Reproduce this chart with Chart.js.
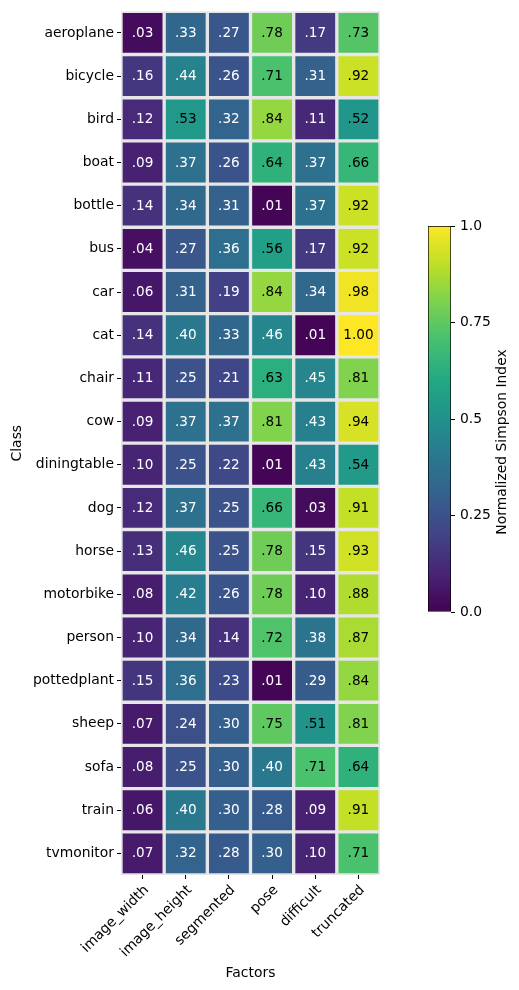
<!DOCTYPE html>
<html>
<head>
<meta charset="utf-8">
<script src="https://cdn.jsdelivr.net/npm/chart.js@4.4.1/dist/chart.umd.min.js"></script>
<style>
  body { margin: 0; background: #fff; }
  #wrap { position: relative; width: 519px; height: 990px; }
  canvas { position: absolute; left: 0; top: 0; }
</style>
</head>
<body>
<div id="wrap">
  <canvas id="heat" width="519" height="990"></canvas>
  <canvas id="cbar" width="519" height="990"></canvas>
</div>
<script>
var classes = ["aeroplane", "bicycle", "bird", "boat", "bottle", "bus", "car", "cat", "chair", "cow",
  "diningtable", "dog", "horse", "motorbike", "person", "pottedplant", "sheep", "sofa", "train", "tvmonitor"];
var factors = ["image_width", "image_height", "segmented", "pose", "difficult", "truncated"];

// one array per factor, in class order
var image_width  = [.03, .16, .12, .09, .14, .04, .06, .14, .11, .09, .10, .12, .13, .08, .10, .15, .07, .08, .06, .07];
var image_height = [.33, .44, .53, .37, .34, .27, .31, .40, .25, .37, .25, .37, .46, .42, .34, .36, .24, .25, .40, .32];
var segmented    = [.27, .26, .32, .26, .31, .36, .19, .33, .21, .37, .22, .25, .25, .26, .14, .23, .30, .30, .30, .28];
var pose         = [.78, .71, .84, .64, .01, .56, .84, .46, .63, .81, .01, .66, .78, .78, .72, .01, .75, .40, .28, .30];
var difficult    = [.17, .31, .11, .37, .37, .17, .34, .01, .45, .43, .43, .03, .15, .10, .38, .29, .51, .71, .09, .10];
var truncated    = [.73, .92, .52, .66, .92, .92, .98, 1.00, .81, .94, .54, .91, .93, .88, .87, .84, .81, .64, .91, .71];

var cbarTicks = [0, 0.25, 0.5, 0.75, 1];
var cbarTitle = "Normalized Simpson Index";

var columns = [image_width, image_height, segmented, pose, difficult, truncated];

// viridis anchor colours
var viridisStops = ["#440154", "#482475", "#414487", "#355f8d", "#2a788e", "#21918c",
  "#22a884", "#44bf70", "#7ad151", "#bddf26", "#fde725"];

function hexToRgb(h) {
  return [parseInt(h.substr(1, 2), 16), parseInt(h.substr(3, 2), 16), parseInt(h.substr(5, 2), 16)];
}
function viridis(t) {
  t = Math.max(0, Math.min(1, t));
  var p = t * (viridisStops.length - 1);
  var i = Math.min(Math.floor(p), viridisStops.length - 2);
  var f = p - i;
  var a = hexToRgb(viridisStops[i]), b = hexToRgb(viridisStops[i + 1]);
  var c = a.map(function (v, k) { return Math.round(v + (b[k] - v) * f); });
  return "rgb(" + c.join(",") + ")";
}
function fmt(v) {
  return v.toFixed(2).replace(/^0/, "");
}

Chart.defaults.font.family = '"DejaVu Sans", sans-serif';
Chart.defaults.font.size = 13.9;
Chart.defaults.color = "#000";

var cellLabels = {
  id: "cellLabels",
  afterDatasetsDraw: function (chart) {
    var ctx = chart.ctx;
    ctx.save();
    ctx.font = '13.6px "DejaVu Sans"';
    ctx.textAlign = "center";
    ctx.textBaseline = "middle";
    chart.data.datasets.forEach(function (ds, di) {
      chart.getDatasetMeta(di).data.forEach(function (bar, i) {
        var v = ds.values[i];
        ctx.fillStyle = v >= 0.5 ? "#000" : "#fff";
        ctx.fillText(fmt(v), (bar.x + bar.base) / 2, bar.y + 0.5);
      });
    });
    ctx.restore();
  }
};

var heatData = {
  labels: classes,
  datasets: factors.map(function (f, j) {
    return {
      label: f,
      values: columns[j],
      data: classes.map(function () { return 1; }),
      backgroundColor: columns[j].map(viridis),
      borderColor: "#e6e6e6",
      borderWidth: 2,
      borderSkipped: false,
      barPercentage: 1,
      categoryPercentage: 1
    };
  })
};

new Chart(document.getElementById("heat"), {
  type: "bar",
  data: heatData,
  plugins: [cellLabels],
  options: {
    indexAxis: "y",
    responsive: false,
    animation: false,
    devicePixelRatio: 1,
    layout: { padding: { left: 0, top: 9, right: 139, bottom: 0 } },
    plugins: { legend: { display: false }, tooltip: { enabled: false } },
    scales: {
      y: {
        type: "category",
        stacked: true,
        offset: true,
        afterFit: function (s) { s.width = 121; },
        grid: { drawOnChartArea: false, offset: false, tickLength: 4, tickColor: "#000" },
        border: { display: false },
        ticks: { padding: 3 },
        title: { display: true, text: "Class", padding: { top: 9, bottom: 4 } }
      },
      x: {
        type: "linear",
        stacked: true,
        min: 0,
        max: factors.length,
        afterFit: function (s) { s.height = 115; },
        afterBuildTicks: function (s) {
          s.ticks = factors.map(function (f, i) { return { value: i + 0.5 }; });
        },
        grid: { drawOnChartArea: false, tickLength: 4, tickColor: "#000" },
        border: { display: false },
        ticks: {
          autoSkip: false,
          minRotation: 45,
          maxRotation: 45,
          padding: 3,
          labelOffset: 4,
          callback: function (v, i) { return factors[i]; }
        },
        title: { display: true, text: "Factors", padding: { top: 4, bottom: 8 } }
      }
    }
  }
});

var cbarTitlePlugin = {
  id: "cbarTitle",
  afterDraw: function (chart) {
    var ctx = chart.ctx;
    ctx.save();
    ctx.translate(502, 442);
    ctx.rotate(-Math.PI / 2);
    ctx.font = '13.9px "DejaVu Sans"';
    ctx.fillStyle = "#000";
    ctx.textAlign = "center";
    ctx.textBaseline = "middle";
    ctx.fillText(cbarTitle, 0, 0);
    ctx.restore();
  }
};

new Chart(document.getElementById("cbar"), {
  type: "bar",
  data: {
    labels: ["scale"],
    datasets: [{
      data: [[cbarTicks[0], cbarTicks[cbarTicks.length - 1]]],
      backgroundColor: function (c) {
        var a = c.chart.chartArea;
        if (!a) return "#888";
        var g = c.chart.ctx.createLinearGradient(0, a.bottom, 0, a.top);
        for (var i = 0; i <= 50; i++) g.addColorStop(i / 50, viridis(i / 50));
        return g;
      },
      borderColor: "#000",
      borderWidth: 1,
      borderSkipped: false,
      barPercentage: 1,
      categoryPercentage: 1
    }]
  },
  plugins: [cbarTitlePlugin],
  options: {
    responsive: false,
    animation: false,
    devicePixelRatio: 1,
    layout: { padding: { left: 428, top: 226, right: 28, bottom: 378 } },
    plugins: { legend: { display: false }, tooltip: { enabled: false } },
    scales: {
      x: { display: false },
      y: {
        position: "right",
        min: 0,
        max: 1,
        afterFit: function (s) { s.width = 40; },
        afterBuildTicks: function (s) {
          s.ticks = cbarTicks.map(function (v) { return { value: v }; });
        },
        grid: { drawOnChartArea: false, tickLength: 4, tickColor: "#000" },
        border: { display: false },
        ticks: {
          padding: 5,
          callback: function (v) { return (v === 0 || v === 1) ? v.toFixed(1) : String(v); }
        }
      }
    }
  }
});
</script>
</body>
</html>
